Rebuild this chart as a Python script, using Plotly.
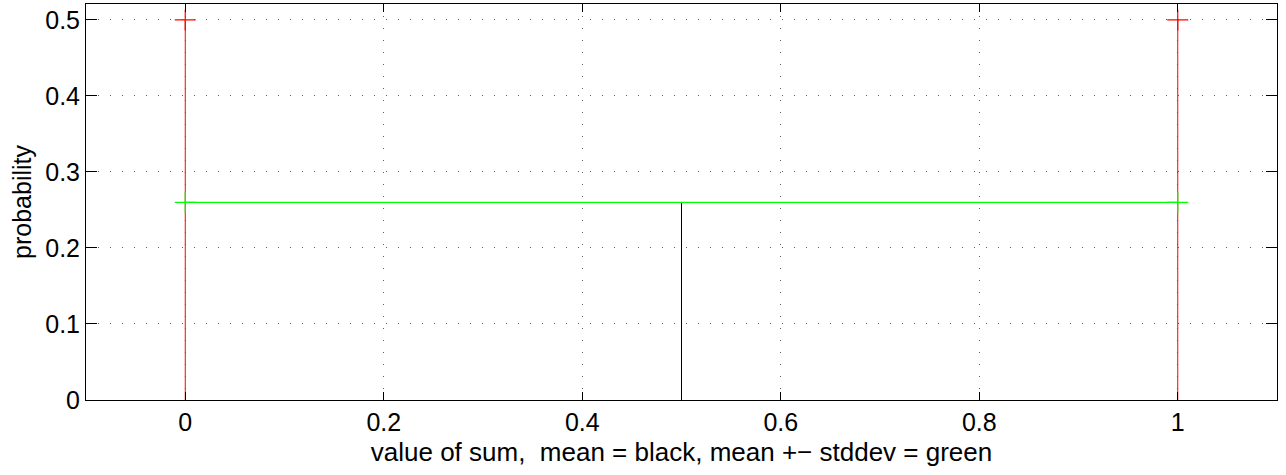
import plotly.graph_objects as go

# Outcome values of the sum and their probabilities
values = [0, 1]
probs = [0.5, 0.5]

# Summary statistics
mean_val = 0.5
std_val = 0.5
mean_height = 0.26

x_ticks = [0, 0.2, 0.4, 0.6, 0.8, 1]
x_labels = ["0", "0.2", "0.4", "0.6", "0.8", "1"]
y_ticks = [0, 0.1, 0.2, 0.3, 0.4, 0.5]
y_labels = ["0", "0.1", "0.2", "0.3", "0.4", "0.5"]

FONT = "Liberation Sans, Arial, Helvetica, sans-serif"

fig = go.Figure()

# Stems for each outcome
stem_x, stem_y = [], []
for v, p in zip(values, probs):
    stem_x += [v, v, None]
    stem_y += [0, p, None]
fig.add_trace(go.Scatter(x=stem_x, y=stem_y, mode="lines",
                         line=dict(color="#ff0000", width=1), hoverinfo="skip"))
fig.add_trace(go.Scatter(x=values, y=probs, mode="markers",
                         marker=dict(symbol="cross-thin", size=15,
                                     line=dict(color="#ff0000", width=1.2)),
                         hoverinfo="skip"))

# Mean marker
fig.add_trace(go.Scatter(x=[mean_val, mean_val], y=[0, mean_height], mode="lines",
                         line=dict(color="black", width=1), hoverinfo="skip"))

# Mean +- stddev range
fig.add_trace(go.Scatter(x=[mean_val - std_val, mean_val + std_val],
                         y=[mean_height, mean_height], mode="lines+markers",
                         line=dict(color="#00ff00", width=1.2),
                         marker=dict(symbol="cross-thin", size=15,
                                     line=dict(color="#00ff00", width=1.2)),
                         hoverinfo="skip"))

axis_common = dict(
    showline=True, linecolor="black", linewidth=1, mirror="ticks",
    ticks="inside", tickcolor="black", tickwidth=1,
    showgrid=True, gridcolor="#606060", griddash="1px,11px", gridwidth=1,
    zeroline=False,
    tickfont=dict(family=FONT, size=25, color="black"),
)

fig.update_layout(
    width=1286, height=475,
    margin=dict(l=86, r=9, t=4, b=75),
    paper_bgcolor="white", plot_bgcolor="white",
    showlegend=False,
    font=dict(family=FONT, color="black"),
    xaxis=dict(range=[-0.1, 1.1], tickvals=x_ticks, ticktext=x_labels, ticklen=8,
               title=dict(text="value of sum,  mean = black, mean +\u2212 stddev = green",
                          font=dict(size=26), standoff=7),
               **axis_common),
    yaxis=dict(range=[0, 0.521], tickvals=y_ticks, ticktext=y_labels, ticklen=11,
               title=dict(text="probability", font=dict(size=25), standoff=6),
               **axis_common),
)

fig.write_html("out.html")
